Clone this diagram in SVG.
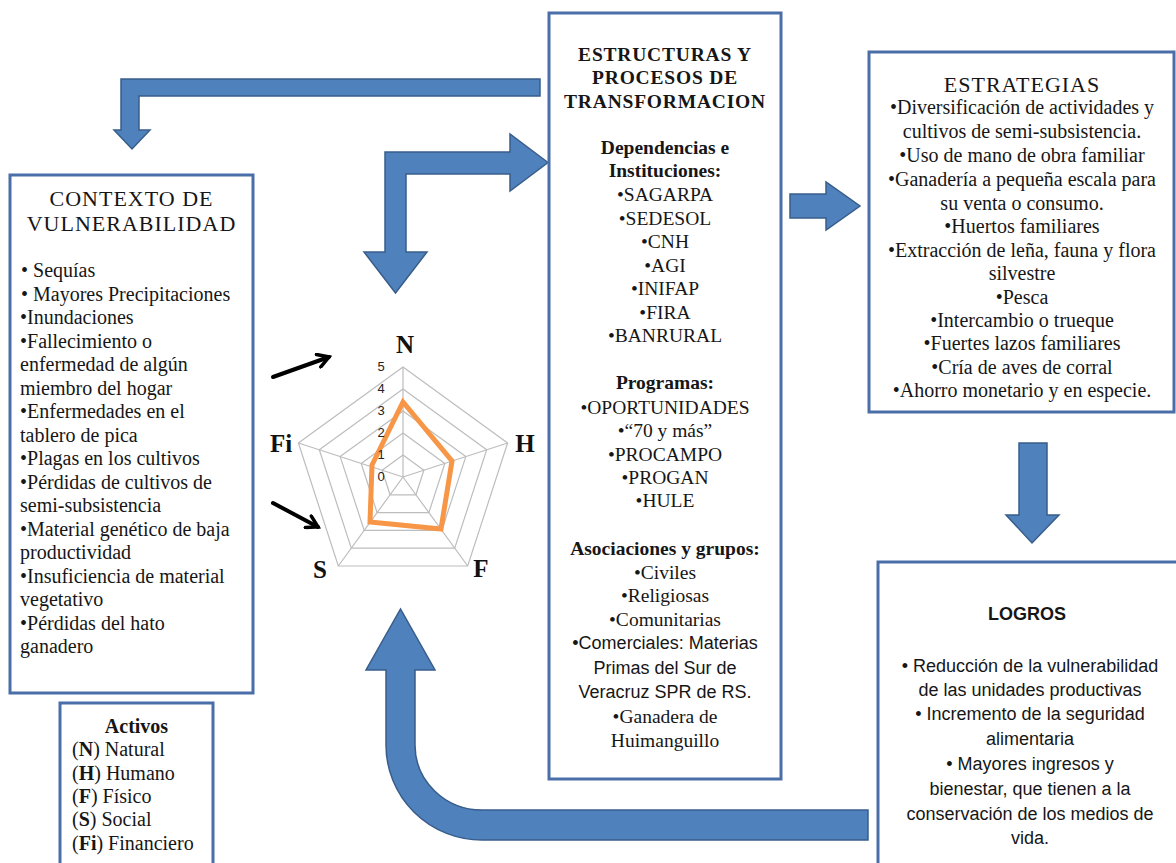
<svg xmlns="http://www.w3.org/2000/svg" width="1176" height="863" viewBox="0 0 1176 863">
<defs>
<style>
.box{fill:#fff;stroke:#4A6EA8;stroke-width:3}
.blue{fill:#4F81BD;stroke:#385D8A;stroke-width:1.5;stroke-linejoin:miter}
.sf{font-family:"Liberation Serif","Times New Roman",serif;font-size:20px;fill:#161616}
.sfc{font-family:"Liberation Serif","Times New Roman",serif;font-size:19.5px;fill:#161616;text-anchor:middle}
.sb{font-weight:bold}
.ttl{font-size:22px;letter-spacing:1px}
.ss{font-family:"Liberation Sans",Arial,sans-serif;font-size:18px;fill:#161616;text-anchor:middle}
.grid{fill:none;stroke:#BDBDBD;stroke-width:1.2}
.ax{font-family:"Liberation Serif","Times New Roman",serif;font-size:25px;font-weight:bold;fill:#111;text-anchor:middle}
.tick{font-family:"Liberation Sans",Arial,sans-serif;font-size:13px;fill:#222;text-anchor:middle}
.blk{fill:none;stroke:#000;stroke-width:4;stroke-linecap:round}
</style>
<marker id="ah" viewBox="0 0 16 16" refX="13" refY="8" markerWidth="16" markerHeight="16" markerUnits="userSpaceOnUse" orient="auto">
<path d="M2,1.5 L13,8 L2,14.5" fill="none" stroke="#000" stroke-width="3.5" stroke-linecap="round" stroke-linejoin="miter"/>
</marker>
</defs>
<rect width="1176" height="863" fill="#fff"/>

<g id="connectors">
<path class="blue" d="M540,79 L121,79 L121,130 L114,130 L132,149 L150,130 L139,130 L139,96 L540,96 Z"/>
<path class="blue" d="M548,162.5 L510,134 L510,152 L385,152 L385,252 L364,252 L395.5,293 L427,252 L406,252 L406,174 L510,174 L510,191 Z"/>
<path class="blue" d="M790,194 L826,194 L826,182 L860,206 L826,230 L826,218 L790,218 Z"/>
<path class="blue" d="M1019,443 L1047,443 L1047,515 L1059,515 L1032,543 L1006,515 L1019,515 Z"/>
<path class="blue" d="M868,810 L482,810 A67,65 0 0 1 415,745 L415,670 L435,670 L400.5,609 L366,670 L386,670 L386,745 A96,95 0 0 0 482,840 L868,840 Z"/>
<line class="blk" x1="273" y1="377" x2="329" y2="357" marker-end="url(#ah)"/>
<line class="blk" x1="273" y1="503" x2="318" y2="527" marker-end="url(#ah)"/>
</g>

<g id="contexto">
<rect class="box" x="10" y="175" width="243" height="518"/>
<text class="sf ttl" x="131.5" y="206" text-anchor="middle">CONTEXTO DE</text>
<text class="sf ttl" x="131.5" y="231" text-anchor="middle">VULNERABILIDAD</text>
<text class="sf" x="21" y="277">• Sequías</text>
<text class="sf" x="21" y="300.5">• Mayores Precipitaciones</text>
<text class="sf" x="20" y="324">•Inundaciones</text>
<text class="sf" x="20" y="347.5">•Fallecimiento o</text>
<text class="sf" x="20" y="371">enfermedad de algún</text>
<text class="sf" x="20" y="394.5">miembro del hogar</text>
<text class="sf" x="20" y="418">•Enfermedades en el</text>
<text class="sf" x="20" y="441.5">tablero de pica</text>
<text class="sf" x="20" y="465">•Plagas en los cultivos</text>
<text class="sf" x="20" y="488.5">•Pérdidas de cultivos de</text>
<text class="sf" x="20" y="512">semi-subsistencia</text>
<text class="sf" x="20" y="535.5">•Material genético de baja</text>
<text class="sf" x="20" y="559">productividad</text>
<text class="sf" x="20" y="582.5">•Insuficiencia de material</text>
<text class="sf" x="20" y="606">vegetativo</text>
<text class="sf" x="20" y="629.5">•Pérdidas del hato</text>
<text class="sf" x="20" y="653">ganadero</text>
</g>

<g id="activos">
<rect class="box" x="60" y="703" width="153" height="175"/>
<text class="sf sb" x="136.5" y="733" text-anchor="middle" font-size="19">Activos</text>
<text class="sf" x="72" y="756" font-size="19">(<tspan class="sb">N</tspan>) Natural</text>
<text class="sf" x="72" y="780" font-size="19">(<tspan class="sb">H</tspan>) Humano</text>
<text class="sf" x="72" y="803" font-size="19">(<tspan class="sb">F</tspan>) Físico</text>
<text class="sf" x="72" y="826" font-size="19">(<tspan class="sb">S</tspan>) Social</text>
<text class="sf" x="72" y="850" font-size="19">(<tspan class="sb">Fi</tspan>) Financiero</text>
</g>

<g id="estructuras">
<rect class="box" x="549" y="13" width="232" height="766"/>
<text class="sfc sb" x="665" y="61" font-size="20" letter-spacing="0.8">ESTRUCTURAS Y</text>
<text class="sfc sb" x="665" y="84" font-size="20" letter-spacing="0.8">PROCESOS DE</text>
<text class="sfc sb" x="665" y="108" font-size="20" letter-spacing="0.8">TRANSFORMACION</text>
<text class="sfc sb" x="665" y="154">Dependencias e</text>
<text class="sfc sb" x="665" y="177">Instituciones:</text>
<text class="sfc" x="665" y="201">•SAGARPA</text>
<text class="sfc" x="665" y="224.5">•SEDESOL</text>
<text class="sfc" x="665" y="248">•CNH</text>
<text class="sfc" x="665" y="271.5">•AGI</text>
<text class="sfc" x="665" y="295">•INIFAP</text>
<text class="sfc" x="665" y="318.5">•FIRA</text>
<text class="sfc" x="665" y="342">•BANRURAL</text>
<text class="sfc sb" x="665" y="389">Programas:</text>
<text class="sfc" x="665" y="413.5">•OPORTUNIDADES</text>
<text class="sfc" x="665" y="437">•“70 y más”</text>
<text class="sfc" x="665" y="460.5">•PROCAMPO</text>
<text class="sfc" x="665" y="484">•PROGAN</text>
<text class="sfc" x="665" y="507">•HULE</text>
<text class="sfc sb" x="665" y="554.5">Asociaciones y grupos:</text>
<text class="sfc" x="665" y="578.5">•Civiles</text>
<text class="sfc" x="665" y="602">•Religiosas</text>
<text class="sfc" x="665" y="625.5">•Comunitarias</text>
<text class="ss" x="665" y="649">•Comerciales:  Materias</text>
<text class="ss" x="665" y="673.5">Primas del Sur de</text>
<text class="ss" x="665" y="698">Veracruz SPR de RS.</text>
<text class="sfc" x="665" y="722.5">•Ganadera de</text>
<text class="sfc" x="665" y="747">Huimanguillo</text>
</g>

<g id="estrategias">
<rect class="box" x="869" y="52" width="305" height="360"/>
<text class="sf ttl" x="1022" y="92" text-anchor="middle">ESTRATEGIAS</text>
<text class="sf" x="1022" y="114" text-anchor="middle">•Diversificación de actividades y</text>
<text class="sf" x="1022" y="137.5" text-anchor="middle">cultivos de semi-subsistencia.</text>
<text class="sf" x="1022" y="161.5" text-anchor="middle">•Uso de mano de obra familiar</text>
<text class="sf" x="1022" y="186" text-anchor="middle">•Ganadería a pequeña escala para</text>
<text class="sf" x="1022" y="209.5" text-anchor="middle">su venta o consumo.</text>
<text class="sf" x="1022" y="232.5" text-anchor="middle">•Huertos familiares</text>
<text class="sf" x="1022" y="256.5" text-anchor="middle">•Extracción de leña, fauna y flora</text>
<text class="sf" x="1022" y="279.5" text-anchor="middle">silvestre</text>
<text class="sf" x="1022" y="303.5" text-anchor="middle">•Pesca</text>
<text class="sf" x="1022" y="326.5" text-anchor="middle">•Intercambio o trueque</text>
<text class="sf" x="1022" y="349.5" text-anchor="middle">•Fuertes lazos familiares</text>
<text class="sf" x="1022" y="373.5" text-anchor="middle">•Cría de aves de corral</text>
<text class="sf" x="1022" y="397" text-anchor="middle">•Ahorro monetario y en especie.</text>
</g>

<g id="logros">
<rect class="box" x="878" y="562" width="310" height="320"/>
<text class="ss" x="1027" y="620" font-weight="bold">LOGROS</text>
<text class="ss" x="1030" y="672">• Reducción de la vulnerabilidad</text>
<text class="ss" x="1030" y="696">de las unidades productivas</text>
<text class="ss" x="1030" y="720">• Incremento de la seguridad</text>
<text class="ss" x="1030" y="744.5">alimentaria</text>
<text class="ss" x="1030" y="769.5">• Mayores ingresos y</text>
<text class="ss" x="1030" y="795">bienestar, que tienen a la</text>
<text class="ss" x="1030" y="819.5">conservación de los medios de</text>
<text class="ss" x="1030" y="844">vida.</text>
</g>

<g id="radar">
<polygon class="grid" points="403,367 507.6,443 467.7,566 338.3,566 298.4,443"/>
<polygon class="grid" points="403,389 486.7,449.8 454.7,548.2 351.3,548.2 319.3,449.8"/>
<polygon class="grid" points="403,411 465.8,456.6 441.8,530.4 364.2,530.4 340.2,456.6"/>
<polygon class="grid" points="403,433 444.8,463.4 428.9,512.6 377.1,512.6 361.2,463.4"/>
<polygon class="grid" points="403,455 423.9,470.2 415.9,494.8 390.1,494.8 382.1,470.2"/>
<path class="grid" d="M403,477 L403,367 M403,477 L507.6,443 M403,477 L467.7,566 M403,477 L338.3,566 M403,477 L298.4,443"/>
<polygon points="403,402 452,461 441,529 370,522 372,465" fill="none" stroke="#F79646" stroke-width="5" stroke-linejoin="miter"/>
<text class="tick" x="381" y="371">5</text>
<text class="tick" x="381" y="393">4</text>
<text class="tick" x="381" y="415">3</text>
<text class="tick" x="381" y="437">2</text>
<text class="tick" x="381" y="459">1</text>
<text class="tick" x="381" y="481">0</text>
<text class="ax" x="405" y="353">N</text>
<text class="ax" x="525" y="452">H</text>
<text class="ax" x="481" y="577">F</text>
<text class="ax" x="320" y="578">S</text>
<text class="ax" x="281" y="452">Fi</text>
</g>
</svg>
